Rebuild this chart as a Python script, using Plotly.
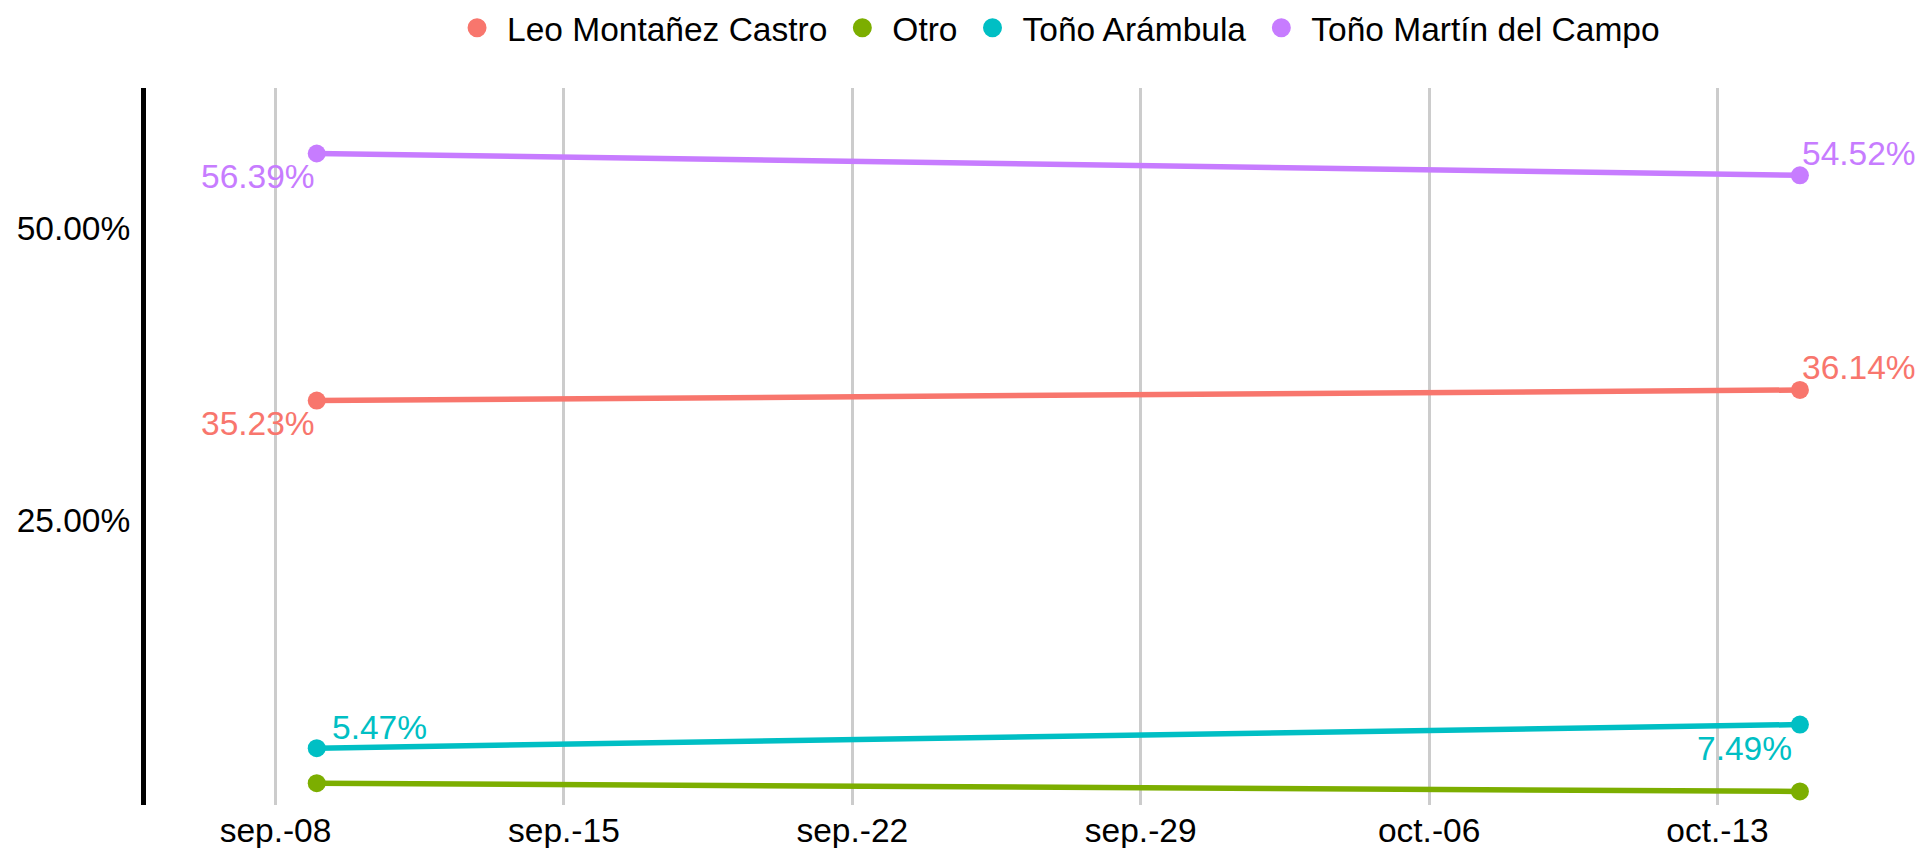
import plotly.graph_objects as go

# ---- data ----
fechas = ["2024-09-09", "2024-10-15"]
candidatos = ["Leo Montañez Castro", "Otro", "Toño Arámbula", "Toño Martín del Campo"]
leo = [35.23, 36.14]
otro = [2.47, 1.76]
arambula = [5.47, 7.49]
martin = [56.39, 54.52]
tick_fechas = ["2024-09-08", "2024-09-15", "2024-09-22", "2024-09-29", "2024-10-06", "2024-10-13"]
tick_textos = ["sep.-08", "sep.-15", "sep.-22", "sep.-29", "oct.-06", "oct.-13"]
y_ticks = [25, 50]
y_textos = ["25.00%", "50.00%"]

series = [leo, otro, arambula, martin]
colores = ["#F8766D", "#7CAE00", "#00BFC4", "#C77CFF"]
# label placement per series per point: (xanchor, xshift, yshift) ; None = no label
etiquetas = [
    [("right", 0, -23), ("left", 0, 22)],
    None,
    [("left", 13, 21), ("right", -6, -24)],
    [("right", 0, -23), ("left", 0, 22)],
]

FONT = "Arial, Liberation Sans, sans-serif"
FS = 33.5

fig = go.Figure()
anns = []
for nombre, vals, col, lab in zip(candidatos, series, colores, etiquetas):
    fig.add_trace(go.Scatter(
        x=fechas, y=vals, name=nombre, mode="lines+markers",
        line=dict(color=col, width=5.5),
        marker=dict(color=col, size=18),
        legendgroup=nombre, showlegend=False,
    ))
    # legend entry (marker only, like the reference key)
    fig.add_trace(go.Scatter(
        x=[None], y=[None], name=nombre, mode="markers",
        marker=dict(color=col, size=16, line=dict(color=col, width=3)),
        legendgroup=nombre, showlegend=True,
    ))
    if lab:
        for xv, yv, (xa, xs, ys) in zip(fechas, vals, lab):
            anns.append(dict(
                x=xv, y=yv, xref="x", yref="y", text=f"{yv:.2f}%",
                showarrow=False, xanchor=xa, yanchor="middle",
                xshift=xs, yshift=ys,
                font=dict(family=FONT, size=FS, color=col),
            ))

fig.update_layout(
    width=1926, height=848,
    paper_bgcolor="white", plot_bgcolor="white",
    margin=dict(l=138, r=24, t=80, b=51, autoexpand=False),
    font=dict(family=FONT, size=FS, color="black"),
    annotations=anns,
    showlegend=True,
    legend=dict(
        orientation="h", x=0.5159, xanchor="center", y=1.0837, yanchor="middle",
        font=dict(family=FONT, size=FS, color="black"),
        bgcolor="rgba(0,0,0,0)", itemsizing="trace", itemwidth=50,
    ),
    xaxis=dict(
        range=["2024-09-04 20:33", "2024-10-17 16:07"],
        tickmode="array", tickvals=tick_fechas, ticktext=tick_textos,
        showgrid=True, gridcolor="#cccccc", gridwidth=2.5,
        zeroline=False, showline=False, ticks="",
        tickfont=dict(family=FONT, size=FS, color="black"),
        ticklabelstandoff=2, automargin=False,
    ),
    yaxis=dict(
        range=[0.6, 62.0],
        tickmode="array", tickvals=y_ticks, ticktext=y_textos,
        showgrid=False, zeroline=False,
        showline=True, linecolor="black", linewidth=5,
        ticks="",
        tickfont=dict(family=FONT, size=FS, color="black"),
        ticklabelstandoff=4, automargin=False,
    ),
)

fig.write_html("out.html")
